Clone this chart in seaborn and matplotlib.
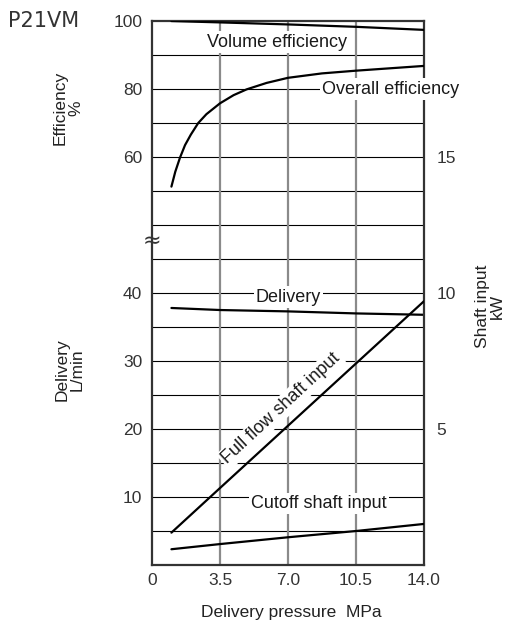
import numpy as np
import pandas as pd
import matplotlib
matplotlib.use('Agg')
import matplotlib.pyplot as plt
import seaborn as sns

# data
pressure = [1.0, 3.5, 7.0, 10.5, 14.0]
vol_eff = [100.0, 99.6, 99.0, 98.3, 97.4]

pressure_oe = [1.0, 1.2, 1.44, 1.7, 2.0, 2.38, 2.8, 3.5, 4.2, 4.87, 5.9, 7.0,
               8.75, 10.5, 12.25, 14.0]
overall_eff = [51.3, 55.7, 59.8, 63.5, 66.6, 70.0, 72.6, 75.8, 78.2, 79.9, 81.8, 83.3,
               84.6, 85.4, 86.1, 86.8]

delivery = [37.8, 37.5, 37.3, 37.0, 36.8]
full_flow_kw = [1.19, 2.83, 5.12, 7.41, 9.70]
cutoff_kw = [0.58, 0.77, 1.02, 1.25, 1.51]

sns.set_style('white')
plt.rcParams['font.family'] = ['Liberation Sans', 'DejaVu Sans']

fig = plt.figure(figsize=(5.14, 6.28), dpi=100)
ax = fig.add_axes([0.2957, 0.1003, 0.5292, 0.8662])
ax_kw = ax.twinx()
ax_eff = ax.twinx()

ax.set_xlim(0, 14)
ax.set_ylim(0, 80)       # delivery L/min; upper half is the efficiency part
ax_kw.set_ylim(0, 20)    # kW
ax_eff.set_ylim(-60, 100)  # efficiency %, aligned to the break

# grid
ax.set_xticks([0, 3.5, 7.0, 10.5, 14.0])
ax.set_xticklabels(['0', '3.5', '7.0', '10.5', '14.0'])
ax.set_yticks([10, 20, 30, 40])
ax.grid(False)
for gy in np.arange(5, 80, 5):
    ax.axhline(gy, color='black', lw=0.8, zorder=1)
for gx in [3.5, 7.0, 10.5]:
    ax.axvline(gx, color='#8a8a8a', lw=1.6, zorder=1)

lw = 1.6
df_a = pd.DataFrame({'p': pressure, 'd': delivery, 'vol': vol_eff,
                     'ff': full_flow_kw, 'co': cutoff_kw})
df_oe = pd.DataFrame({'p': pressure_oe, 'oe': overall_eff})
sns.lineplot(data=df_a, x='p', y='d', ax=ax, color='black', lw=lw)
sns.lineplot(data=df_a, x='p', y='ff', ax=ax_kw, color='black', lw=lw)
sns.lineplot(data=df_a, x='p', y='co', ax=ax_kw, color='black', lw=lw)
sns.lineplot(data=df_a, x='p', y='vol', ax=ax_eff, color='black', lw=lw)
sns.lineplot(data=df_oe, x='p', y='oe', ax=ax_eff, color='black', lw=lw)

tick_col = '#333333'
ax.tick_params(axis='both', which='both', length=0, labelsize=12.5, colors=tick_col)
ax.tick_params(axis='y', pad=7)
ax.tick_params(axis='x', pad=6)
ax.set_xlabel('')
ax.set_ylabel('')

ax_kw.set_yticks([5, 10, 15])
ax_kw.tick_params(axis='y', length=0, labelsize=12.5, colors=tick_col, pad=9)
ax_kw.set_ylabel('')

ax_eff.set_yticks([60, 80, 100])
ax_eff.yaxis.set_ticks_position('left')
ax_eff.yaxis.set_label_position('left')
ax_eff.tick_params(axis='y', length=0, labelsize=12.5, colors=tick_col, pad=7)
ax_eff.set_ylabel('')

for a in (ax_kw, ax_eff):
    for s in a.spines.values():
        s.set_visible(False)
for s in ax.spines.values():
    s.set_visible(True)
    s.set_color('#333333')
    s.set_linewidth(1.6)

# labels inside the plot
box = dict(facecolor='white', edgecolor='none', pad=1.5)
tkw = dict(transform=ax.transData, fontsize=13, color='#1a1a1a', ha='center',
           va='center', bbox=box, zorder=10, clip_on=False)
ax_eff.text(6.43, 76.9, 'Volume efficiency', **tkw)
ax_eff.text(12.3, 70.0, 'Overall efficiency', **tkw)
ax_eff.text(7.02, 39.4, 'Delivery', **tkw)
ax_eff.text(6.65, 23.0, 'Full flow shaft input', rotation=42.8, rotation_mode='anchor', **tkw)
ax_eff.text(8.6, 9.0, 'Cutoff shaft input', **tkw)
ax_eff.text(0, 47.6, '≈', transform=ax.transData, fontsize=16, ha='center',
            va='center', color='#333333', zorder=10, clip_on=False,
            family='DejaVu Sans')

# axis titles
fig.text(291 / 514, 1 - 612 / 628, 'Delivery pressure  MPa', fontsize=12.5,
         ha='center', va='center', color='#222222')
fig.text(68 / 514, 1 - 108 / 628, 'Efficiency\n%', fontsize=12.5, rotation=90,
         ha='center', va='center', multialignment='center', color='#222222',
         linespacing=1.0)
fig.text(70 / 514, 1 - 370 / 628, 'Delivery\nL/min', fontsize=12.5, rotation=90,
         ha='center', va='center', multialignment='center', color='#222222',
         linespacing=1.0)
fig.text(490 / 514, 1 - 306 / 628, 'Shaft input\nkW', fontsize=12.5, rotation=90,
         ha='center', va='center', multialignment='center', color='#222222',
         linespacing=1.0)
fig.text(8 / 514, 1 - 21 / 628, 'P21VM', fontsize=15, family='DejaVu Sans',
         ha='left', va='center', color='#333333')

fig.savefig('out.png', dpi=100)
